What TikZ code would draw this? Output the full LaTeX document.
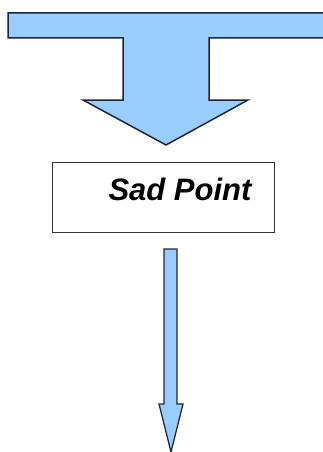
\documentclass[tikz,border=0pt]{standalone}
\usepackage{fontspec}
\setmainfont{Liberation Sans}
\definecolor{arrowfill}{HTML}{99CCFF}
\definecolor{arrowline}{HTML}{1E2638}
\begin{document}
\begin{tikzpicture}[x=1pt,y=-1pt,
  blockarrow/.style={fill=arrowfill,draw=arrowline,line width=1.5pt,line join=miter},
  labelbox/.style={draw=black!80,line width=0.8pt,fill=white,minimum width=222pt,minimum height=70pt,inner sep=0pt}]
\useasboundingbox (0,0) rectangle (323,452);
\clip (0,0) rectangle (323,452);
% T-shaped arrow
\draw[blockarrow] (8,13) -- (335,13) -- (335,38) -- (209,38) -- (209,100) -- (248,100)
  -- (166,145) -- (83,100) -- (123,100) -- (123,38) -- (8,38) -- cycle;
% box
\node[labelbox] (box) at (163,197) {};
\node[font=\fontsize{31}{36}\selectfont\bfseries\itshape,inner sep=0pt,anchor=base] (lbl) at (180,200) {Sad Point};
% thin arrow
\draw[blockarrow,line width=1.3pt] (164,249) -- (177,249) -- (177,404) -- (183,404) -- (171,452) -- (159,404) -- (164,404) -- cycle;
\end{tikzpicture}
\end{document}
